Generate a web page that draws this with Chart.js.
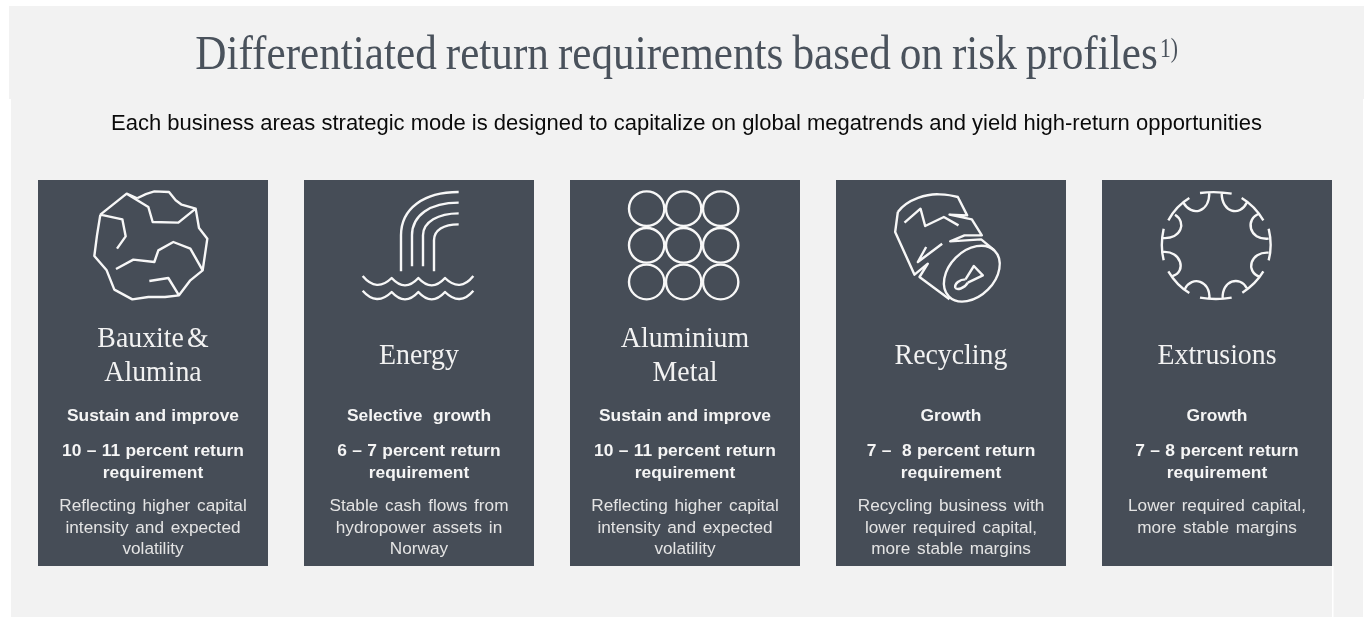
<!DOCTYPE html>
<html><head><meta charset="utf-8">
<style>html,body{margin:0;padding:0;background:#fff}canvas{display:block}</style>
<script src="https://cdn.jsdelivr.net/npm/chart.js@4/dist/chart.umd.js"></script>
</head><body><canvas id="c" width="1370" height="617"></canvas>
<script>
const titleText = "Differentiated return requirements based on risk profiles";
const titleNote = "1)";
const subtitleText = "Each business areas strategic mode is designed to capitalize on global megatrends and yield high-return opportunities";
const categories = ["Bauxite & Alumina","Energy","Aluminium Metal","Recycling","Extrusions"];
const nameLines = [["Bauxite &","Alumina"],["Energy"],["Aluminium","Metal"],["Recycling"],["Extrusions"]];
const modes = ["Sustain and improve","Selective  growth","Sustain and improve","Growth","Growth"];
const returnLines = [
  ["10 – 11 percent return","requirement"],
  ["6 – 7 percent return","requirement"],
  ["10 – 11 percent return","requirement"],
  ["7 –  8 percent return","requirement"],
  ["7 – 8 percent return","requirement"]];
const descLines = [
  ["Reflecting higher capital","intensity and expected","volatility"],
  ["Stable cash flows from","hydropower assets in","Norway"],
  ["Reflecting higher capital","intensity and expected","volatility"],
  ["Recycling business with","lower required capital,","more stable margins"],
  ["Lower required capital,","more stable margins"]];
const cardValues = [1,1,1,1,1];

const ICONS = [
 {ox:-68,d:"M46 98L125 35L158 50M158 48Q180 35 208 28L252 30L272 55L290 68L332 80L342 138L367 170L353 265L316 295L282 340L240 345L190 345L142 352L88 323L65 265L28 222L36 160L46 98M125 35L190 75L203 120L280 122L332 80M46 98L112 112L122 163L96 200M93 261L145 233L208 240L220 205L265 180L316 200L353 265M193 297L250 288L282 340"},
 {ox:-69,d:"M153 268L153 160C153 80 220 30 326 30M186 253L186 160C186 100 240 62 326 62M219 253L219 160C219 120 265 94 326 94M252 268L252 175C252 145 280 127 326 127M38 282Q80 332 125 288Q165 332 205 288Q245 332 285 288Q330 332 370 282M38 326Q80 374 125 330Q165 374 205 330Q245 374 285 330Q330 374 370 326"},
 {ox:-67,d:"",circles:true},
 {ox:-66.5,d:"M40 90C70 50 130 35 165 37C190 38 210 42 220 45L248 100L195 98L262 112L292 160L240 160L197 178L290 172L330 205M40 90L32 150L90 278L130 245L105 285L195 352M60 122L108 80L122 132L178 105L222 130M173 185L100 240L125 195M243 292L268 252L295 280L250 302M243 292C225 292 210 305 212 316C216 326 240 320 250 302",ellipse:true},
 {ox:-67,d:"M150 33Q198 27 245 35M275 48Q315 72 340 115M356 140Q368 190 356 235M340 268Q318 305 277 332M150 347Q198 355 245 347M55 268Q80 310 118 333M41 235Q30 190 41 140M55 115Q78 72 118 48M178 32C178 92 125 105 100 62M215 33C215 92 270 105 290 62M328 95C285 110 295 175 356 170M356 212C300 208 285 270 330 285M290 318C270 280 215 295 218 350M178 350C182 295 125 280 105 320M68 282C110 270 95 205 38 210M38 168C95 172 110 120 75 98"}
];

function put(ctx,str,cx,y,font,color,sx,ws){
  ctx.save();
  ctx.font=font; ctx.fillStyle=color; ctx.textAlign="center"; ctx.textBaseline="alphabetic";
  ctx.wordSpacing=(ws||0)+"px";
  ctx.translate(cx,y); ctx.scale(sx,1);
  ctx.fillText(str,0,0);
  ctx.restore();
}
const SERIF='"Liberation Serif"', SANS='"Liberation Sans"';
const infographic={
  id:"infographic",
  beforeDraw(chart){
    const c=chart.ctx;
    c.save();
    c.fillStyle="#fff"; c.fillRect(0,0,1370,617);
    c.fillStyle="#f2f2f2";
    c.fillRect(9,6,1355,93);
    c.fillRect(11,99,1352,518);
    c.fillStyle="#fff"; c.fillRect(1332,566,1.5,51);
    c.restore();
    put(c,titleText,676.5,69,"48px "+SERIF,"#4a525c",0.90,-2);
    put(c,titleNote,1169,57,"27px "+SERIF,"#4a525c",0.8);
    put(c,subtitleText,686.5,129.5,"22px "+SANS,"#0a0a0a",1,0);
  },
  afterDatasetsDraw(chart){
    const c=chart.ctx, xs=chart.scales.x, top=chart.scales.y.getPixelForValue(1);
    categories.forEach((name,i)=>{
      const cx=xs.getPixelForValue(i), ic=ICONS[i];
      c.save();
      c.translate(cx+ic.ox,top+2); c.scale(1/3,1/3);
      c.strokeStyle="#f7f7f7"; c.lineWidth=7.2; c.lineJoin="round"; c.lineCap="butt";
      if(ic.circles){
        [86,197,308].forEach(x=>[80,190,300].forEach(y=>{c.beginPath();c.ellipse(x,y,53,52,0,0,Math.PI*2);c.stroke();}));
      } else {
        c.stroke(new Path2D(ic.d));
        if(ic.ellipse){c.beginPath();c.ellipse(262,275,97,68,-Math.PI/4,0,Math.PI*2);c.stroke();}
      }
      c.restore();
      const names=nameLines[i], ny=names.length===2?[347,381]:[364];
      names.forEach((t,k)=>put(c,t,cx,ny[k],"29px "+SERIF,"#f2f2f2",0.96,-4));
      put(c,modes[i],cx,421,"bold 17.4px "+SANS,"#f5f5f5",1,0.5);
      returnLines[i].forEach((t,k)=>put(c,t,cx,[456,478][k],"bold 17.4px "+SANS,"#f5f5f5",1,0.5));
      descLines[i].forEach((t,k)=>put(c,t,cx,[511,533,554][k],"17.2px "+SANS,"#e4e4e4",1,2));
    });
  }
};
new Chart(document.getElementById("c"),{
  type:"bar",
  data:{labels:categories,datasets:[{label:"Business areas",data:cardValues,backgroundColor:"#464d57",borderWidth:0,barPercentage:230/266,categoryPercentage:1}]},
  options:{
    responsive:false,animation:false,
    layout:{padding:{left:20,right:20,top:180,bottom:51}},
    scales:{x:{display:false,offset:true,grid:{display:false}},y:{display:false,min:0,max:1,grid:{display:false}}},
    plugins:{legend:{display:false},tooltip:{enabled:false},title:{display:false}}
  },
  plugins:[infographic]
});
</script></body></html>
